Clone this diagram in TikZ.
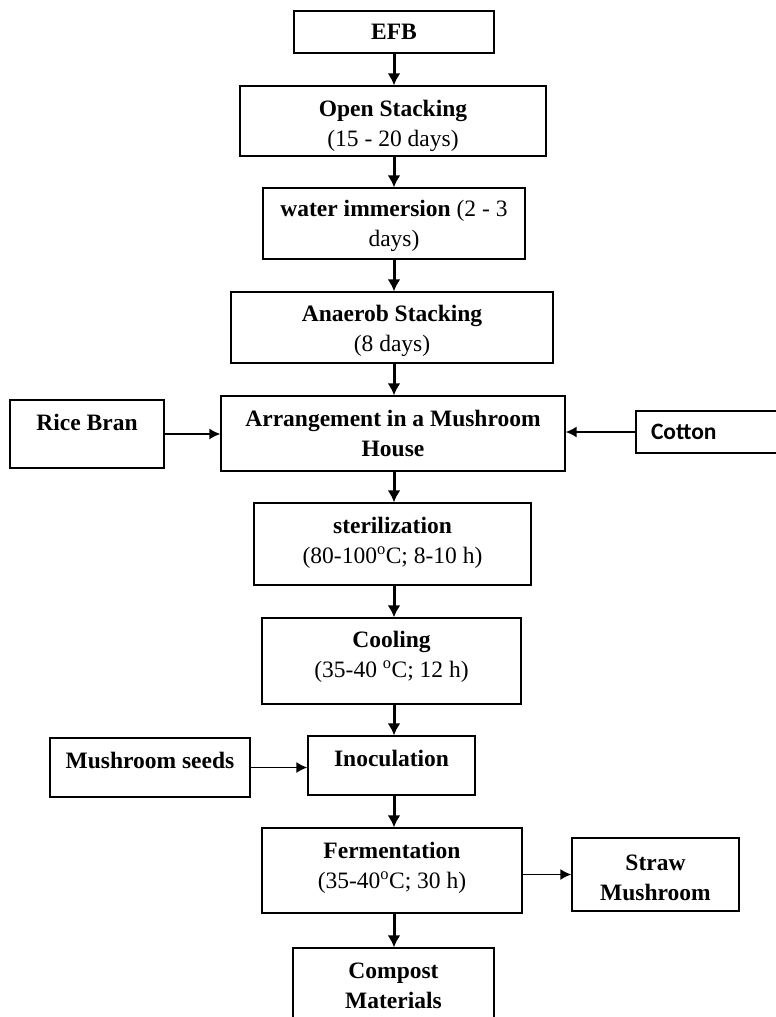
\documentclass[tikz,border=0pt]{standalone}
\usepackage{fontspec}
\setmainfont{Liberation Serif}
\newfontfamily\calibrifont{Carlito}
\usepackage{tikz}
\usetikzlibrary{arrows.meta}

\begin{document}
\begin{tikzpicture}[x = 1pt, y = -1pt,
		box/.style = {draw, line width = 1.3pt, align = center, inner sep = 0pt,
			font = \fontsize{23.5}{30}\selectfont\bfseries}]
			\def\deg{\textsuperscript{o}}

			\useasboundingbox (0,0) rectangle (776,1017);
			\clip (0,0) rectangle (776,1017);
			\coordinate (axis) at (394,0);

			\begin{scope}
				\node [box, minimum width = 200pt, minimum height = 42pt] (efb) at (394,32) {EFB};
				\node [box, minimum width = 306pt, minimum height = 70pt, text height = 52pt, text depth = 1pt] (open) at (393,121)
					{Open Stacking\\ \mdseries(15 - 20 days)};
				\node [box, minimum width = 262pt, minimum height = 71pt, text height = 52pt] (water) at (394,223.5)
					{water immersion \mdseries(2 - 3\\ \mdseries days)};
				\node [box, minimum width = 322pt, minimum height = 71pt, text height = 54pt] (anaerob) at (392,327.5)
					{Anaerob Stacking\\ \mdseries(8 days)};
				\node [box, minimum width = 344pt, minimum height = 75pt] (house) at (393,433.5)
					{Arrangement in a Mushroom\\ House};
				\node [box, minimum width = 277pt, minimum height = 82pt, text depth = 8pt] (steril) at (392.5,544)
					{sterilization\\ \mdseries(80-100\deg C; 8-10 h)};
				\node [box, minimum width = 259pt, minimum height = 86pt, text depth = 13pt] (cooling) at (391.5,661)
					{Cooling\\ \mdseries(35-40 \deg C; 12 h)};
				\node [box, minimum width = 167pt, minimum height = 59pt, text depth = 15pt] (inoculation) at (391.5,765.5)
					{Inoculation};
				\node [box, minimum width = 260pt, minimum height = 85pt, text depth = 10pt] (ferment) at (392,870.5)
					{Fermentation\\ \mdseries(35-40\deg C; 30 h)};
				\node [box, minimum width = 201pt, minimum height = 82pt, text depth = 6pt] (compost) at (393.5,989)
					{Compost\\ Materials};
			\end{scope}

			\begin{scope}
				\node [box, minimum width = 154pt, minimum height = 68pt, text depth = 24pt] (ricebran) at (87,434)
					{Rice Bran};
				\node [box, minimum width = 180pt, minimum height = 42pt, text width = 150pt, inner xsep = 15pt,
					align = left, font = \fontsize{23.5}{30}\calibrifont\bfseries] (cotton) at (726,432) {Cotton};
				\node [box, minimum width = 200pt, minimum height = 59pt, text depth = 15pt] (seeds) at (150,767.5)
					{Mushroom seeds};
				\node [box, minimum width = 167pt, minimum height = 73pt, text height = 51pt, text depth = 0pt] (straw) at (655.5,874.5)
					{Straw\\ Mushroom};
			\end{scope}

			\begin{scope}[line width = 3pt, -{Latex[length = 12pt, width = 13pt]}]
				\draw (axis |- efb.south) -- (axis |- open.north);
				\draw (axis |- open.south) -- (axis |- water.north);
				\draw (axis |- water.south) -- (axis |- anaerob.north);
				\draw (axis |- anaerob.south) -- (axis |- house.north);
				\draw (axis |- house.south) -- (axis |- steril.north);
				\draw (axis |- steril.south) -- (axis |- cooling.north);
				\draw (axis |- cooling.south) -- (axis |- inoculation.north);
				\draw (axis |- inoculation.south) -- (axis |- ferment.north);
				\draw (axis |- ferment.south) -- (axis |- compost.north);
			\end{scope}

			\begin{scope}[line width = 1.5pt, -{Latex[length = 11pt, width = 11pt]}]
				\draw (ricebran.east) -- (ricebran.east -| house.west);
				\draw (cotton.west) -- (cotton.west -| house.east);
				\draw (seeds.east) -- (seeds.east -| inoculation.west);
				\draw (straw.west -| ferment.east) -- (straw.west);
			\end{scope}
		\end{tikzpicture}
\end{document}
